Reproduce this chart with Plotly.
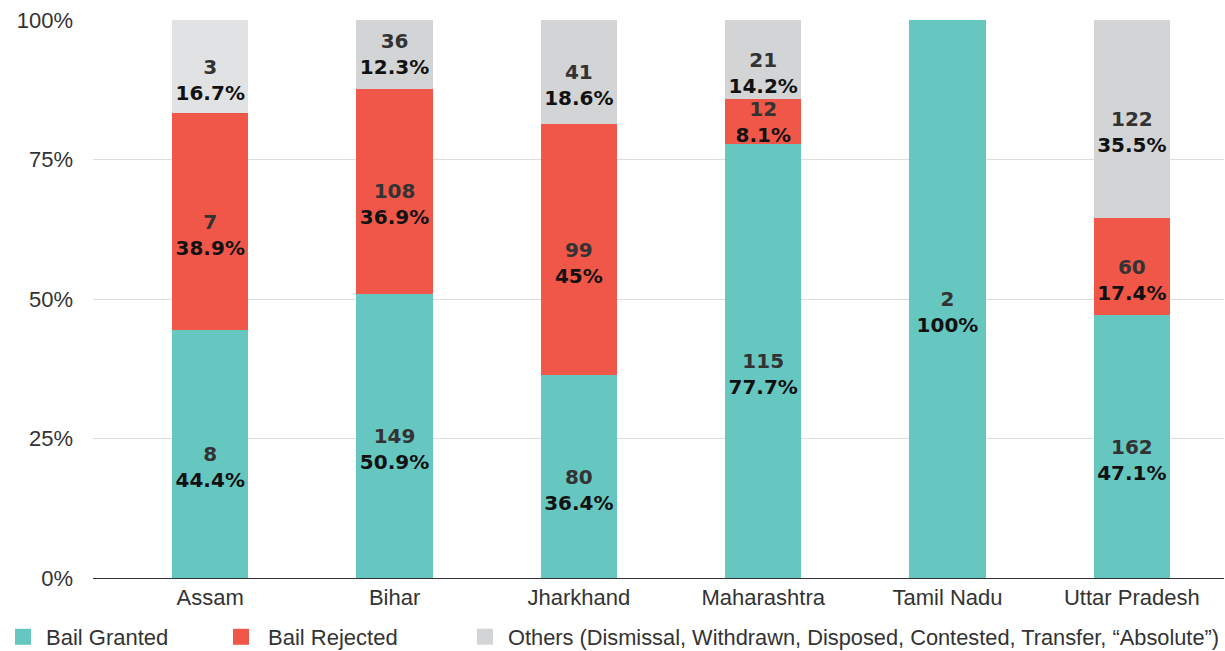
import plotly.graph_objects as go

states = ["Assam", "Bihar", "Jharkhand", "Maharashtra", "Tamil Nadu", "Uttar Pradesh"]
granted_n = [8, 149, 80, 115, 2, 162]
granted_pct = [44.4, 50.9, 36.4, 77.7, 100, 47.1]
rejected_n = [7, 108, 99, 12, 0, 60]
rejected_pct = [38.9, 36.9, 45, 8.1, 0, 17.4]
others_n = [3, 36, 41, 21, 0, 122]
others_pct = [16.7, 12.3, 18.6, 14.2, 0, 35.5]
y_ticks = [0, 25, 50, 75, 100]
y_tick_text = ["0%", "25%", "50%", "75%", "100%"]

TEAL = "#66C7C1"
RED = "#F15749"
GRAY = "#D3D4D6"
GRAY_LIGHT = "#E1E2E4"
AXIS_FONT = "Liberation Sans"
LABEL_FONT = "DejaVu Sans"
NBSP = "\u00a0"


def labels(ns, pcts):
    out = []
    for n, p in zip(ns, pcts):
        if n == 0:
            out.append("")
            continue
        body = "<span style='color:#333333'>%d</span><br>%s%%" % (n, "%g" % p)
        # taller segments: count line sits on the segment centre
        if p >= 14:
            body = NBSP + "<br>" + body
        out.append(body)
    return out


fig = go.Figure()
series = [
    ("Bail Granted", granted_n, granted_pct, [TEAL] * 6),
    ("Bail Rejected", rejected_n, rejected_pct, [RED] * 6),
    ("Others", others_n, others_pct, [GRAY_LIGHT] + [GRAY] * 5),
]
for name, ns, pcts, cols in series:
    fig.add_trace(go.Bar(
        x=states, y=ns, name=name, marker=dict(color=cols, line=dict(width=0)),
        text=labels(ns, pcts), textposition="inside", insidetextanchor="middle",
        textangle=0, textfont=dict(family=LABEL_FONT, size=20, color="#111111", weight="bold"),
        width=0.413, showlegend=False, hoverinfo="skip", cliponaxis=False,
    ))

# name, colour, legend id, left px, symbol area width, font size
legend_items = [
    ("Bail Granted", TEAL, "legend", 0, 36, 22),
    ("Bail Rejected", RED, "legend2", 214, 44, 22),
    ("Others (Dismissal, Withdrawn, Disposed, Contested, Transfer, “Absolute”)", GRAY, "legend3", 462, 36, 21.8),
]
for name, col, lg, _, _, _ in legend_items:
    fig.add_trace(go.Scatter(
        x=[None], y=[None], mode="markers", name=name, legend=lg,
        marker=dict(symbol="square", size=16, color=col), showlegend=True,
    ))


def px_to_paper(px):
    return (px - 93) / (1225 - 93 - 1)


def legend_cfg(item):
    return dict(orientation="h", xref="paper", yref="container", yanchor="middle",
                y=1 - 637 / 651, bgcolor="rgba(0,0,0,0)",
                x=px_to_paper(item[3]), itemwidth=item[4],
                font=dict(family=AXIS_FONT, size=item[5], color="#333333"))


fig.update_layout(
    width=1225, height=651,
    margin=dict(l=93, r=1, t=20, b=73),
    barmode="stack", barnorm="percent",
    plot_bgcolor="white", paper_bgcolor="white",
    uniformtext=dict(minsize=20, mode="show"),
    font=dict(family=AXIS_FONT, size=22, color="#333333"),
    xaxis=dict(range=[-0.636, 5.5], showgrid=False, showline=True, linecolor="#333333",
               linewidth=1, ticks="", tickfont=dict(family=AXIS_FONT, size=22, color="#333333"),
               fixedrange=True),
    yaxis=dict(range=[0, 100.0001], tickvals=y_ticks, ticktext=y_tick_text, showgrid=True,
               gridcolor="#DDDDDD", gridwidth=1, zeroline=False, ticks="",
               ticklabelstandoff=19, tickfont=dict(family=AXIS_FONT, size=22, color="#333333")),
    legend=legend_cfg(legend_items[0]),
    legend2=legend_cfg(legend_items[1]),
    legend3=legend_cfg(legend_items[2]),
)

fig.write_html("out.html")
